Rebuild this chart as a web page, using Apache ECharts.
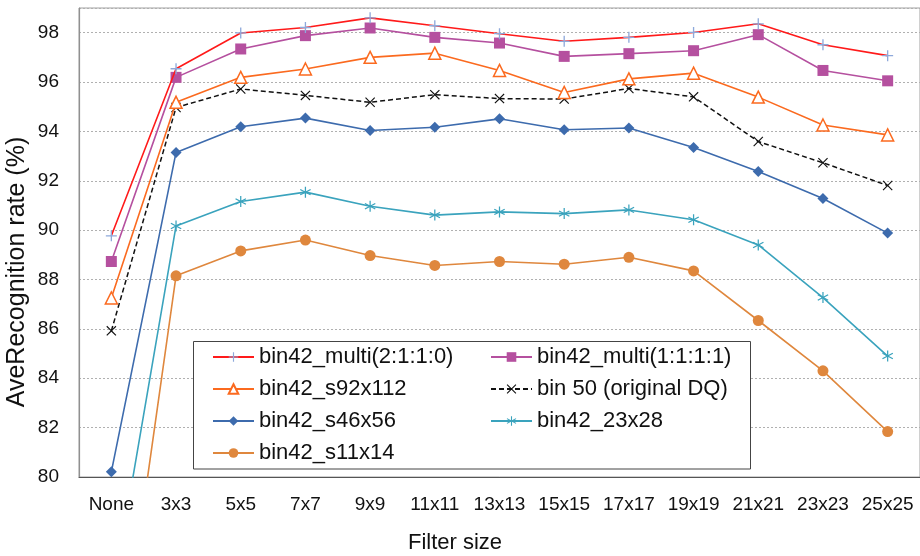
<!DOCTYPE html>
<html>
<head>
<meta charset="utf-8">
<script src="https://cdn.jsdelivr.net/npm/echarts@6/dist/echarts.min.js"></script>
<style>html,body{margin:0;padding:0;background:#fff}#c{width:920px;height:556px}</style>
</head>
<body>
<div id="c"></div>
<script>
var categories = ['None','3x3','5x5','7x7','9x9','11x11','13x13','15x15','17x17','19x19','21x21','23x23','25x25'];
var yTicks = [80,82,84,86,88,90,92,94,96,98];
var multi2110 = [89.77,96.54,97.99,98.21,98.60,98.28,97.96,97.65,97.81,98.01,98.36,97.51,97.07];
var multi1111 = [88.73,96.19,97.34,97.88,98.19,97.81,97.58,97.04,97.15,97.27,97.92,96.47,96.05];
var s92x112  = [87.25,95.18,96.19,96.53,97.00,97.17,96.47,95.58,96.13,96.36,95.39,94.26,93.86];
var bin50    = [85.92,94.97,95.72,95.46,95.18,95.49,95.33,95.31,95.74,95.40,93.59,92.73,91.81];
var s46x56   = [80.21,93.15,94.19,94.54,94.04,94.17,94.51,94.07,94.14,93.35,92.38,91.28,89.88];
var s23x28   = [74.9,90.17,91.16,91.54,90.97,90.61,90.74,90.67,90.82,90.42,89.40,87.27,84.90];
var s11x14   = [69.6,88.15,89.16,89.60,88.97,88.57,88.73,88.62,88.90,88.35,86.34,84.30,81.84];

var PLUS = 'path://M4.4,0H5.6V4.4H10V5.6H5.6V10H4.4V5.6H0V4.4H4.4Z';
var CROSS = 'path://M0.8,0L5,4.2L9.2,0L10,0.8L5.8,5L10,9.2L9.2,10L5,5.8L0.8,10L0,9.2L4.2,5L0,0.8Z';
var STAR = 'path://M4.5,0H5.5V4.1L8.9,2.1L9.4,3L6,5L9.4,7L8.9,7.9L5.5,5.9V10H4.5V5.9L1.1,7.9L0.6,7L4,5L0.6,3L1.1,2.1L4.5,4.1Z';

function mk(name, data, color, symbol, size, opts) {
  var s = {
    name: name, type: 'line', data: data, symbol: symbol, symbolSize: size,
    lineStyle: { color: color, width: 1.6 },
    itemStyle: { color: color },
    clip: true, animation: false, z: 3
  };
  if (opts) for (var k in opts) s[k] = opts[k];
  return s;
}

var chart = echarts.init(document.getElementById('c'), null, {renderer: 'canvas'});
var legendText = { fontSize: 22, color: '#111', fontFamily: 'Liberation Sans' };
chart.setOption({
  animation: false,
  textStyle: { fontFamily: 'Liberation Sans' },
  grid: { left: 79, right: -8, top: 8, bottom: 79, show: true, borderColor: '#a0a0a0', borderWidth: 1, backgroundColor: 'transparent' },
  xAxis: {
    type: 'category', data: categories, boundaryGap: true,
    axisLine: { lineStyle: { color: '#555', width: 1.2 } },
    axisTick: { inside: true, length: 6, lineStyle: { color: '#555' } },
    axisLabel: { fontSize: 19, color: '#111', margin: 18, interval: 0 },
    splitLine: { show: false }
  },
  yAxis: {
    type: 'value', min: yTicks[0], max: 99, interval: 2,
    axisLine: { show: true, lineStyle: { color: '#909090', width: 1.2 } },
    axisTick: { show: false },
    axisLabel: { fontSize: 19, color: '#111', margin: 20, showMaxLabel: false },
    splitLine: { show: true, lineStyle: { color: '#b0b0b0', type: [2, 2], width: 1 } }
  },
  legend: [
    { orient: 'vertical', left: 212, top: 346, padding: 0, itemGap: 10, itemWidth: 41, itemHeight: 12,
      textStyle: legendText, z: 10, selectedMode: false,
      data: ['bin42_multi(2:1:1:0)', 'bin42_s92x112', 'bin42_s46x56', 'bin42_s11x14'] },
    { orient: 'vertical', left: 490, top: 346, padding: 0, itemGap: 10, itemWidth: 41, itemHeight: 12,
      textStyle: legendText, z: 10, selectedMode: false,
      data: ['bin42_multi(1:1:1:1)', 'bin 50 (original DQ)', 'bin42_23x28'] }
  ],
  graphic: [
    { type: 'rect', z: 5, shape: { x: 193.5, y: 341.5, width: 557, height: 127.5 },
      style: { fill: '#fff', stroke: '#444', lineWidth: 1 } },
    { type: 'text', z: 5, x: 17, y: 272, rotation: Math.PI / 2,
      style: { text: 'AveRecognition rate (%)', font: '25px Liberation Sans', fill: '#111', textAlign: 'center', textVerticalAlign: 'middle' } },
    { type: 'text', z: 5, x: 455, y: 543,
      style: { text: 'Filter size', font: '22px Liberation Sans', fill: '#111', textAlign: 'center', textVerticalAlign: 'middle' } }
  ],
  series: [
    mk('bin42_multi(2:1:1:0)', multi2110, '#ff1a1a', PLUS, 11, { itemStyle: { color: '#8ea9db' }, z: 8 }),
    mk('bin42_multi(1:1:1:1)', multi1111, '#b5509f', 'rect', 11, { z: 7 }),
    mk('bin42_s92x112', s92x112, '#fb6a1f', 'triangle', 12, { itemStyle: { color: '#fff', borderColor: '#fb6a1f', borderWidth: 1.5 }, z: 6 }),
    mk('bin 50 (original DQ)', bin50, '#111', CROSS, 10, { lineStyle: { color: '#111', width: 1.5, type: [5, 3] }, z: 5 }),
    mk('bin42_s46x56', s46x56, '#3d6bad', 'diamond', 11, { z: 4 }),
    mk('bin42_23x28', s23x28, '#3aa3bd', STAR, 11, { z: 4 }),
    mk('bin42_s11x14', s11x14, '#df873d', 'circle', 11, { z: 4 })
  ]
});
</script>
</body>
</html>
